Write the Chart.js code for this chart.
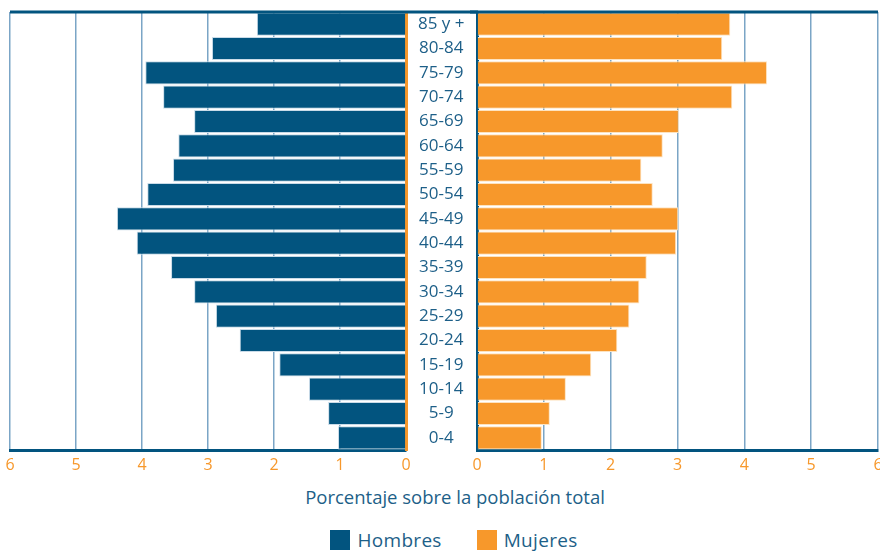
<!DOCTYPE html>
<html lang="es">
<head>
<meta charset="utf-8">
<script src="https://cdn.jsdelivr.net/npm/chart.js@4.4.1/dist/chart.umd.min.js"></script>
<style>
  body { margin: 0; background: #fff; font-family: 'Open Sans', sans-serif; overflow: hidden; }
  #wrap { position: relative; width: 880px; height: 553px; overflow: hidden; }
  #left { position: absolute; left: 0; top: 0; }
  #right { position: absolute; left: 470px; top: 0; }
  #titulo { position: absolute; top: 484px; left: 0; width: 910px; text-align: center; color: #1d5f88; font-size: 18.5px; }
  #leyenda { position: absolute; top: 529px; left: 0; width: 908px; display: flex; justify-content: center; gap: 35px; color: #1d5f88; font-size: 19px; letter-spacing: 0.3px; }
  #leyenda span.item { display: flex; align-items: center; gap: 7px; line-height: 22px; }
  #leyenda span.caja { display: inline-block; width: 20px; height: 20px; }
</style>
</head>
<body>
<div id="wrap">
  <canvas id="left" width="478" height="480"></canvas>
  <canvas id="right" width="420" height="480"></canvas>
  <div id="titulo">Porcentaje sobre la población total</div>
  <div id="leyenda"></div>
</div>
<script>
const edades = ['85 y +', '80-84', '75-79', '70-74', '65-69', '60-64', '55-59', '50-54', '45-49',
  '40-44', '35-39', '30-34', '25-29', '20-24', '15-19', '10-14', '5-9', '0-4'];
const hombres = [2.26, 2.94, 3.95, 3.68, 3.21, 3.45, 3.53, 3.92, 4.38,
  4.08, 3.56, 3.21, 2.88, 2.52, 1.92, 1.47, 1.18, 1.03];
const mujeres = [3.79, 3.67, 4.34, 3.82, 3.02, 2.78, 2.46, 2.63, 3.01,
  2.98, 2.54, 2.43, 2.28, 2.10, 1.71, 1.33, 1.09, 0.97];
const series = ['Hombres', 'Mujeres'];
const escalaMax = 6;

const AZUL = '#02547f';
const NARANJA = '#f7982b';
const TEXTO = '#1d5f88';
const GRID = '#7ba5c6';

// linea superior que une los dos paneles
const topRule = {
  id: 'topRule',
  afterDraw(chart, args, opts) {
    const { ctx, chartArea } = chart;
    const x0 = opts.side === 'left' ? chartArea.left : 0;
    const x1 = opts.side === 'left' ? chart.width : chartArea.right;
    ctx.save();
    ctx.strokeStyle = AZUL;
    ctx.lineWidth = 3;
    ctx.beginPath();
    ctx.moveTo(x0, chartArea.top);
    ctx.lineTo(x1, chartArea.top);
    ctx.stroke();
    ctx.restore();
  }
};

function crearPanel(id, nombre, valores, color, borde, esIzq) {
  const ctx = document.getElementById(id).getContext('2d');
  return new Chart(ctx, {
    type: 'bar',
    data: {
      labels: edades,
      datasets: [{
        label: nombre,
        data: valores,
        backgroundColor: color,
        borderColor: borde,
        borderWidth: 1,
        barPercentage: 0.95,
        categoryPercentage: 1
      }]
    },
    options: {
      indexAxis: 'y',
      responsive: false,
      animation: false,
      layout: { padding: esIzq ? { left: 10, top: 12, right: 0, bottom: 0 } : { left: 7, top: 12, right: 12, bottom: 0 } },
      plugins: {
        legend: { display: false },
        tooltip: { enabled: false },
        topRule: { side: esIzq ? 'left' : 'right' }
      },
      scales: {
        x: {
          type: 'linear',
          reverse: esIzq,
          min: 0,
          max: escalaMax,
          ticks: { stepSize: 1, color: NARANJA, font: { family: 'Open Sans', size: 16 }, padding: 6 },
          grid: { color: GRID, lineWidth: 1.5, drawTicks: false },
          border: { color: AZUL, width: 3 },
          afterFit(s) { s.height = 30; s.paddingLeft = 0; s.paddingRight = 0; }
        },
        y: {
          position: esIzq ? 'right' : 'left',
          grid: { display: false },
          border: { color: esIzq ? NARANJA : AZUL, width: 3 },
          ticks: {
            display: esIzq,
            color: TEXTO,
            font: { family: 'Open Sans', size: 17 },
            crossAlign: 'center',
            padding: 4
          },
          afterFit(s) { s.width = esIzq ? 72 : 0; s.paddingTop = 0; s.paddingBottom = 0; }
        }
      }
    },
    plugins: [topRule]
  });
}

crearPanel('left', series[0], hombres, AZUL, '#c9dbe8', true);
crearPanel('right', series[1], mujeres, NARANJA, '#fde3c0', false);

const leyenda = document.getElementById('leyenda');
[AZUL, NARANJA].forEach((c, i) => {
  const item = document.createElement('span');
  item.className = 'item';
  item.innerHTML = '<span class="caja" style="background:' + c + '"></span>' + series[i];
  leyenda.appendChild(item);
});
</script>
</body>
</html>
